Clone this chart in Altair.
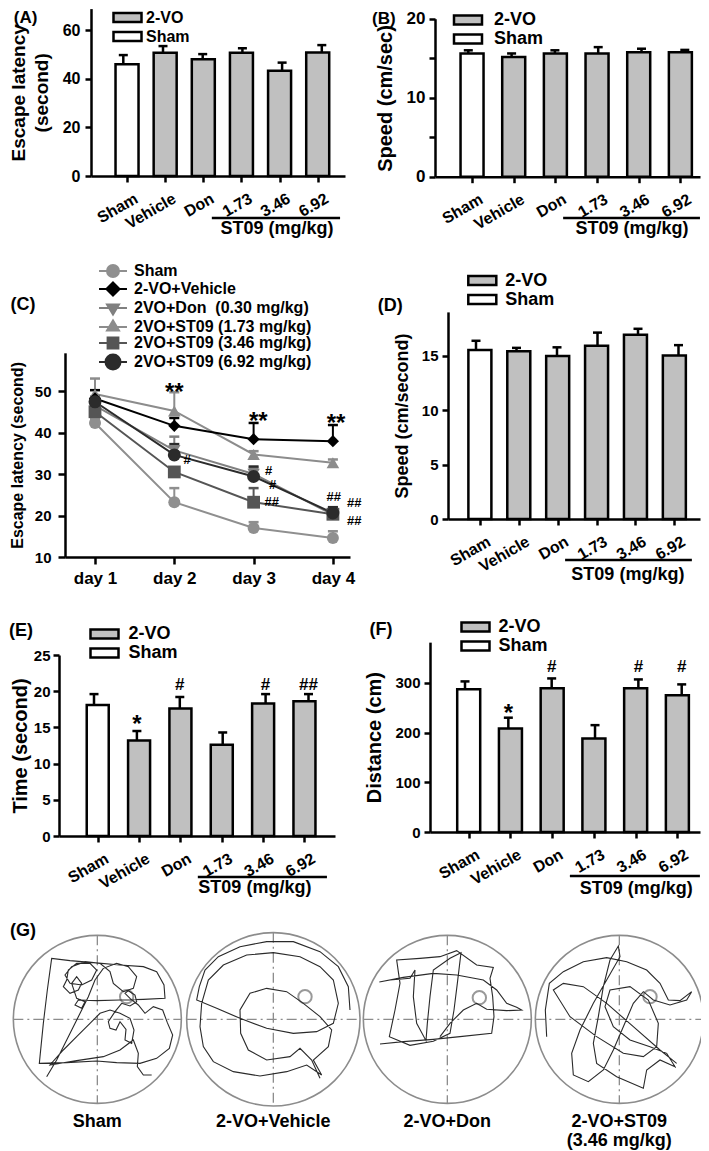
import altair as alt
import pandas as pd

W, H = 693, 1143
M = 8  # page margin of the html page
FONT = "Liberation Sans"
BAR_GRAY = "#c0c0c0"

# ---------------------------------------------------------------- data
GROUPS = ["Sham", "Vehicle", "Don", "1.73", "3.46", "6.92"]
BAR_KIND = ["Sham", "2-VO", "2-VO", "2-VO", "2-VO", "2-VO"]
KINDS = ["2-VO", "Sham"]

A_MEAN = [45.9, 50.7, 48.0, 50.7, 43.3, 50.8]
A_UP = [49.7, 53.4, 50.1, 52.5, 46.6, 53.8]
B_MEAN = [15.6, 15.15, 15.6, 15.6, 15.75, 15.75]
B_UP = [16.0, 15.6, 16.0, 16.4, 16.2, 16.05]
D_MEAN = [15.5, 15.4, 14.95, 15.9, 16.9, 15.0]
D_UP = [16.35, 15.7, 15.75, 17.1, 17.45, 15.95]
E_MEAN = [18.1, 13.2, 17.6, 12.6, 18.3, 18.6]
E_UP = [19.6, 14.5, 19.2, 14.3, 19.6, 19.6]
F_MEAN = [287, 208, 289, 188, 289, 275]
F_UP = [303, 230, 309, 215, 307, 297]

DAYS = [1, 2, 3, 4]
C_SERIES = ["Sham", "2-VO+Vehicle", "2VO+Don\u00a0 (0.30 mg/kg)", "2VO+ST09 (1.73 mg/kg)",
            "2VO+ST09 (3.46 mg/kg)", "2VO+ST09 (6.92 mg/kg)"]
C_MEAN = [[42.3, 23.2, 17.0, 14.6],
          [48.2, 41.6, 38.4, 37.9],
          [46.5, 35.7, 30.0, 20.2],
          [49.3, 45.2, 34.7, 32.7],
          [45.0, 30.5, 23.2, 20.3],
          [47.4, 34.6, 29.4, 20.6]]
C_UP = [[43.3, 26.6, 18.4, 16.2],
        [50.2, 43.5, 42.3, 41.8],
        [48.0, 39.0, 31.5, 22.0],
        [53.0, 49.7, 35.5, 33.5],
        [46.2, 31.6, 26.6, 21.6],
        [48.6, 37.2, 31.8, 22.0]]
C_DRAW_ORDER = [0, 3, 2, 4, 1, 5]
C_COLORS = ["#8f8f8f", "#000000", "#808080", "#8c8c8c", "#555555", "#2b2b2b"]
C_SHAPES = ["circle", "diamond", "triangle-down", "triangle-up", "square", "circle"]
C_SIZES = [144, 169, 144, 144, 121, 225]
C_LEG_PATHS = [
    "M-2.33,0H2.33M-1,0A1,1,0,1,0,1,0A1,1,0,1,0,-1,0Z",
    "M-2.33,0H2.33M0,-1.1L1.1,0L0,1.1L-1.1,0Z",
    "M-2.33,0H2.33M-1,-0.6L1,-0.6L0,1.1Z",
    "M-2.33,0H2.33M-1,0.6L1,0.6L0,-1.1Z",
    "M-2.33,0H2.33M-0.9,-0.9H0.9V0.9H-0.9Z",
    "M-2.33,0H2.33M-1.25,0A1.25,1.25,0,1,0,1.25,0A1.25,1.25,0,1,0,-1.25,0Z",
]

C_STAR_X = [2.0, 3.06, 4.04]
C_STAR_Y = [51.2, 44.2, 43.7]
C_HASH_X = [2.16, 3.19, 3.24, 3.23, 4.01, 4.27, 4.27]
C_HASH_Y = [33.6, 30.9, 27.7, 23.5, 24.7, 23.3, 18.9]
C_HASH_T = ["#", "#", "#", "##", "##", "##", "##"]

E_STAR_X, E_STAR_Y = [1], [16.3]
E_HASH_X, E_HASH_Y, E_HASH_T = [2, 4, 5], [21.0, 21.0, 21.0], ["#", "#", "##"]
F_STAR_X, F_STAR_Y = [1], [252]
F_HASH_X, F_HASH_Y, F_HASH_T = [2, 4, 5], [334, 334, 334], ["#", "#", "#"]

# water-maze tracks, traced on a 3x grid of the figure (x = 3*px, y = 3*(py-770))
POOL_NAMES = ["Sham", "2-VO+Vehicle", "2-VO+Don", "2-VO+ST09\n(3.46 mg/kg)"]
POOL_CX = [292, 820, 1342, 1858]
POOL_CY = [748, 748, 748, 748]
POOL_R = [252, 260, 252, 252]
PLAT_X = [380, 915, 1438, 1950]
PLAT_Y = [680, 680, 683, 680]
# tracks were traced on crops; each crop's origin on the 3x grid is given with it
SHAM_ORIGIN = (30, 480)
SHAM_PATH = [(110, 440), (140, 390), (175, 320), (205, 260), (235, 200), (255, 150), (280, 115), (320, 100),
             (355, 110), (380, 140), (370, 175), (340, 185), (310, 160), (300, 125), (270, 100), (225, 95),
             (185, 110), (165, 135), (180, 160), (215, 165), (245, 150), (260, 120), (240, 100), (200, 100),
             (175, 120), (170, 150), (160, 170), (180, 190), (205, 180), (215, 160), (200, 140), (185, 160),
             (200, 205), (225, 215), (215, 235), (195, 225), (205, 210), (260, 212), (330, 210), (400, 208),
             (465, 205), (462, 165), (440, 125), (400, 110), (330, 105), (250, 98), (180, 92), (125, 85),
             (112, 180), (100, 280), (90, 380), (88, 400), (170, 398), (260, 393), (320, 398), (390, 400),
             (440, 385), (478, 355), (488, 315), (472, 278), (458, 240), (430, 230), (405, 250), (385, 225),
             (360, 205), (345, 190), (355, 182), (375, 195), (380, 215), (360, 228), (335, 220), (315, 245),
             (295, 275), (300, 295), (318, 300), (330, 275), (348, 298), (345, 330), (365, 340), (372, 300),
             (360, 265), (330, 250), (300, 240), (270, 250), (240, 280), (200, 320), (160, 360), (120, 405),
             (200, 392), (280, 380), (330, 360), (370, 330), (385, 370), (382, 410), (400, 435), (425, 435)]
VEH_ORIGIN = (0, 0)
VEH_PATH = [(1050, 720), (1045, 650), (1015, 590), (960, 545), (880, 515), (800, 515), (720, 530), (655, 560),
            (615, 600), (598, 650), (590, 690), (650, 715), (720, 745), (800, 775), (880, 790), (950, 785),
            (1000, 760), (1015, 700), (1000, 630), (960, 590), (900, 560), (820, 548), (740, 555), (670, 585),
            (625, 630), (605, 700), (600, 770), (610, 830), (640, 875), (700, 905), (780, 918), (860, 905),
            (920, 885), (965, 915), (940, 870), (985, 830), (995, 780), (960, 740), (910, 700), (860, 665),
            (800, 655), (750, 670), (720, 720), (722, 790), (745, 840), (800, 870), (870, 860), (900, 835),
            (935, 870), (960, 925)]
CROP2_ORIGIN = (1050, 0)
DON_PATH = [(90, 822), (160, 815), (250, 808), (330, 800), (425, 790), (432, 740), (428, 680), (420, 625),
            (430, 592), (380, 585), (320, 542), (270, 560), (210, 565), (140, 570), (150, 640), (135, 720),
            (118, 800), (180, 826), (250, 814), (300, 790), (312, 720), (322, 640), (333, 548), (300, 565),
            (250, 600), (240, 680), (232, 760), (228, 812), (200, 760), (190, 680), (195, 600), (180, 625),
            (120, 630), (88, 636), (160, 622), (250, 610), (320, 615), (400, 630), (440, 660), (470, 700),
            (500, 712), (515, 720), (470, 722), (410, 718), (380, 700), (340, 720), (300, 760), (270, 800)]
ST09_PATH = [(590, 800), (586, 720), (598, 640), (640, 605), (700, 575), (770, 563), (830, 575), (890, 600),
             (930, 640), (955, 690), (990, 692), (1025, 665), (1010, 690), (960, 705), (910, 690), (880, 665),
             (850, 700), (820, 770), (790, 840), (760, 900), (715, 935), (670, 915), (665, 850), (690, 780),
             (730, 700), (770, 630), (810, 560), (805, 528), (780, 570), (760, 650), (745, 740), (730, 820),
             (740, 880), (800, 920), (880, 955), (890, 900), (930, 870), (975, 890), (950, 850), (900, 830),
             (840, 810), (790, 770), (765, 710), (780, 660), (840, 650), (895, 690), (925, 760), (920, 830),
             (880, 860), (820, 850), (740, 800), (660, 740), (610, 660), (640, 640), (700, 650), (770, 700),
             (850, 770), (930, 840), (980, 880)]

# ---------------------------------------------------------------- helpers
AX = dict(grid=False, domainColor="black", domainWidth=2.5, tickColor="black", tickWidth=2.5,
          labelFont=FONT, labelFontWeight="bold", labelColor="black",
          titleFont=FONT, titleFontWeight="bold", titleColor="black",
          labelOverlap=False, labelFlush=False, labelBound=False)
GROUP_EXPR = "[" + ",".join("'%s'" % g for g in GROUPS) + "][datum.value]"


def x_geom(c0, step, left, right, first=0):
    return alt.Scale(domain=[first + (left - c0) / step, first + (right - c0) / step],
                     range=[left - M, right - M], nice=False, zero=False)


def y_geom(base_px, ppu, vmin, vmax, vref=0):
    def px(v):
        return base_px - (v - vref) * ppu
    return alt.Scale(domain=[vmin, vmax], range=[px(vmin) - M, px(vmax) - M],
                     nice=False, zero=False), px(vmin)


def left_axis(x_px, values, title, label_size, title_size, label_pad, title_pad, tick=6, **kw):
    return alt.Axis(orient="left", offset=-(x_px - M), values=values, title=title,
                    labelFontSize=label_size, titleFontSize=title_size, labelPadding=label_pad,
                    titlePadding=title_pad, tickSize=tick, **AX, **kw)


def bottom_axis(y_px, values, label_expr, label_size, angle, align, baseline, label_pad,
                tick=6, label_offset=0):
    return alt.Axis(orient="bottom", offset=(y_px - M) - H, values=values, title=None,
                    labelExpr=label_expr, labelAngle=angle, labelAlign=align,
                    labelBaseline=baseline, labelFontSize=label_size, labelPadding=label_pad,
                    labelOffset=label_offset, tickSize=tick, **AX)


def group_axis(y_px):
    return bottom_axis(y_px, list(range(len(GROUPS))), GROUP_EXPR, 16, -30, "right", "top", 8,
                       label_offset=5)


BOX_PATH = "M-2,-0.65H2V0.65H-2Z"


def box_legend(x_px, y_px, label_size, label_offset, row_pad):
    return alt.Legend(title=None, orient="none", legendX=x_px - M, legendY=y_px - M,
                      symbolType=BOX_PATH, symbolSize=196, symbolStrokeColor="black",
                      symbolStrokeWidth=2.5, labelFont=FONT, labelFontSize=label_size,
                      labelFontWeight="bold", labelColor="black", labelOffset=label_offset,
                      rowPadding=row_pad, padding=0)


def text_layer(xs, ys, xv, yv, tv, size, dy=0, align="center"):
    df = pd.DataFrame({"x": xv, "y": yv, "t": tv})
    return alt.Chart(df).mark_text(font=FONT, fontWeight="bold", fontSize=size, dy=dy, align=align,
                                   baseline="middle", color="black").encode(
        x=alt.X("x:Q", scale=xs, axis=None), y=alt.Y("y:Q", scale=ys, axis=None), text="t:N")


def underline(xs, ys, x1, x2, y):
    df = pd.DataFrame({"x": [x1], "x2": [x2], "y": [y]})
    return alt.Chart(df).mark_rule(color="black", strokeWidth=2.5).encode(
        x=alt.X("x:Q", scale=xs, axis=None), x2="x2:Q", y=alt.Y("y:Q", scale=ys, axis=None))


def bar_panel(mean, up, xs, ys, xax, yax, legend, bar_w):
    df = pd.DataFrame({"i": list(range(len(GROUPS))), "m": mean, "u": up, "k": BAR_KIND})
    bars = alt.Chart(df).mark_bar(orient="vertical", width=bar_w, stroke="black", strokeWidth=2.5).encode(
        x=alt.X("i:Q", scale=xs, axis=xax),
        y=alt.Y("m:Q", scale=ys, axis=yax, stack=None),
        fill=alt.Fill("k:N", scale=alt.Scale(domain=KINDS, range=[BAR_GRAY, "white"]), legend=legend))
    err = alt.Chart(df).mark_rule(color="black", strokeWidth=2.5).encode(
        x=alt.X("i:Q", scale=xs, axis=None), y=alt.Y("m:Q", scale=ys, axis=None), y2="u:Q")
    cap = alt.Chart(df).mark_tick(orient="horizontal", color="black", size=9, thickness=2.5,
                                  opacity=1).encode(
        x=alt.X("i:Q", scale=xs, axis=None), y=alt.Y("u:Q", scale=ys, axis=None))
    return [bars, err, cap]


layers = []

# ---------------------------------------------------------------- (A)
xa = x_geom(123.3, 39.7, 91, 345)
ya, ya0 = y_geom(176, 2.433, 0, 68.8)
layers += bar_panel(A_MEAN, A_UP, xa, ya, group_axis(ya0),
                    left_axis(91, [0, 20, 40, 60], ["Escape latency", "(second)"], 16, 19, 5, 11,
                              titleLineHeight=23),
                    box_legend(119, 9, 16, 10, -3), 23)
layers += [underline(xa, ya, 2.23, 5.46, -17.3),
           text_layer(xa, ya, [3.87], [-21.8], ["ST09 (mg/kg)"], 18),
           text_layer(xa, ya, [-2.46], [64.9], ["(A)"], 17)]

# ---------------------------------------------------------------- (B)
xb = x_geom(468.3, 43.3, 435, 700)
yb, yb0 = y_geom(176.7, 7.9, 0, 20)
layers += bar_panel(B_MEAN, B_UP, xb, yb, group_axis(yb0),
                    left_axis(435, [0, 5, 10, 15, 20], "Speed (cm/sec)", 17, 20, 4, 11,
                              labelExpr="datum.value % 10 == 0 ? datum.label : ''", titleY=90),
                    box_legend(459, 11, 18, 17, -5), 23)
layers += [underline(xb, yb, 2.19, 5.35, -5.23),
           text_layer(xb, yb, [3.78], [-6.62], ["ST09 (mg/kg)"], 18),
           text_layer(xb, yb, [-1.95], [19.96], ["(B)"], 17)]

# ---------------------------------------------------------------- (C)
xc = x_geom(95, 79.3, 65, 350, first=1)
yc, yc0 = y_geom(391, 4.15, 10, 59.2, vref=50)
c_rows = []
for s in C_DRAW_ORDER:
    for d, m, u in zip(DAYS, C_MEAN[s], C_UP[s]):
        c_rows.append({"s": C_SERIES[s], "day": d, "m": m, "u": u})
cdf = pd.DataFrame(c_rows)
c_col = alt.Scale(domain=C_SERIES, range=C_COLORS)
c_line = alt.Chart(cdf).mark_line(strokeWidth=2).encode(
    x=alt.X("day:Q", scale=xc,
            axis=bottom_axis(yc0, DAYS, "'day ' + datum.value", 17, 0, "center", "top", 6, tick=7)),
    y=alt.Y("m:Q", scale=yc,
            axis=left_axis(65, [10, 20, 30, 40, 50], "Escape latency (second)", 15, 16, 7, 9, tick=7)),
    color=alt.Color("s:N", scale=c_col, legend=None), order=alt.Order("day:Q"))
c_err = alt.Chart(cdf).mark_rule(strokeWidth=2).encode(
    x=alt.X("day:Q", scale=xc, axis=None), y=alt.Y("m:Q", scale=yc, axis=None), y2="u:Q",
    color=alt.Color("s:N", scale=c_col, legend=None))
c_cap = alt.Chart(cdf).mark_tick(orient="horizontal", size=10, thickness=2.5, opacity=1).encode(
    x=alt.X("day:Q", scale=xc, axis=None), y=alt.Y("u:Q", scale=yc, axis=None),
    color=alt.Color("s:N", scale=c_col, legend=None))
c_pts = alt.Chart(cdf).mark_point(filled=True, opacity=1).encode(
    x=alt.X("day:Q", scale=xc, axis=None), y=alt.Y("m:Q", scale=yc, axis=None),
    color=alt.Color("s:N", scale=c_col, legend=None),
    shape=alt.Shape("s:N", scale=alt.Scale(domain=C_SERIES, range=C_SHAPES), legend=None),
    size=alt.Size("s:N", scale=alt.Scale(domain=C_SERIES, range=C_SIZES), legend=None))
c_leg = alt.Legend(title=None, orient="none", legendX=105 - M, legendY=263 - M, symbolSize=144,
                   symbolStrokeWidth=2, labelFont=FONT, labelFontSize=16, labelFontWeight="bold",
                   labelColor="black", labelOffset=13, rowPadding=-3, padding=0, labelLimit=400)
c_legend_layer = alt.Chart(pd.DataFrame({"s": C_SERIES})).mark_point(
    filled=True, clip=True, opacity=1, strokeWidth=2).encode(
    x=alt.value(-500), y=alt.value(-500),
    fill=alt.Fill("s:N", scale=alt.Scale(domain=C_SERIES, range=C_COLORS), legend=c_leg),
    stroke=alt.Stroke("s:N", scale=alt.Scale(domain=C_SERIES, range=C_COLORS), legend=c_leg),
    shape=alt.Shape("s:N", scale=alt.Scale(domain=C_SERIES, range=C_LEG_PATHS), legend=c_leg))
layers += [c_line, c_err, c_cap, c_pts, c_legend_layer,
           text_layer(xc, yc, C_STAR_X, C_STAR_Y, ["**"] * 3, 24, dy=7),
           text_layer(xc, yc, C_HASH_X, C_HASH_Y, C_HASH_T, 13, dy=1),
           text_layer(xc, yc, [0.092], [70.7], ["(C)"], 18)]

# ---------------------------------------------------------------- (D)
xd = x_geom(476, 40.5, 448, 700)
yd, yd0 = y_geom(519, 10.9, 0, 19)
layers += bar_panel(D_MEAN, D_UP, xd, yd, group_axis(yd0),
                    left_axis(448, [0, 5, 10, 15], "Speed (cm/second)", 15, 18, 4, 10),
                    box_legend(473.3, 271.5, 18, 14, -3), 23)
layers += [underline(xd, yd, 2.20, 5.33, -3.76),
           text_layer(xd, yd, [3.75], [-5.14], ["ST09 (mg/kg)"], 18),
           text_layer(xd, yd, [-2.12], [19.5], ["(D)"], 18)]

# ---------------------------------------------------------------- (E)
xe = x_geom(94, 42.9, 59, 335)
ye, ye0 = y_geom(836, 7.24, 0, 25)
layers += bar_panel(E_MEAN, E_UP, xe, ye, group_axis(ye0),
                    left_axis(59, [0, 5, 10, 15, 20, 25], "Time (second)", 15, 20, 3, 3),
                    box_legend(95.5, 625, 18, 15, -3), 22)
layers += [underline(xe, ye, 2.42, 5.43, -5.66),
           text_layer(xe, ye, [3.75], [-7.18], ["ST09 (mg/kg)"], 18),
           text_layer(xe, ye, [-1.70], [28.3], ["(E)"], 18),
           text_layer(xe, ye, E_STAR_X, E_STAR_Y, ["*"], 24, dy=7),
           text_layer(xe, ye, E_HASH_X, E_HASH_Y, E_HASH_T, 17, dy=1)]

# ---------------------------------------------------------------- (F)
xf = x_geom(465, 43.34, 430, 700)
yf, yf0 = y_geom(832, 0.497, 0, 382)
layers += bar_panel(F_MEAN, F_UP, xf, yf, group_axis(yf0),
                    left_axis(430, [0, 100, 200, 300], "Distance (cm)", 15, 20, 4, 10),
                    box_legend(466.5, 618, 18, 14, -2), 23)
layers += [underline(xf, yf, 2.42, 5.42, -88.5),
           text_layer(xf, yf, [3.95], [-114.7], ["ST09 (mg/kg)"], 18),
           text_layer(xf, yf, [-1.94], [406], ["(F)"], 18),
           text_layer(xf, yf, F_STAR_X, F_STAR_Y, ["*"], 24, dy=7),
           text_layer(xf, yf, F_HASH_X, F_HASH_Y, F_HASH_T, 17, dy=1)]

# ---------------------------------------------------------------- (G)
gx = alt.Scale(domain=[3 * M, 3 * (W + M)], range=[0, W], nice=False, zero=False)
gy = alt.Scale(domain=[0, 3 * (H + M - 770)], range=[770 - M, H], nice=False, zero=False)
pools = pd.DataFrame({"name": POOL_NAMES, "cx": POOL_CX, "cy": POOL_CY, "r": POOL_R,
                      "px": PLAT_X, "py": PLAT_Y})
pools["x1"] = pools.cx - pools.r
pools["x2"] = pools.cx + pools.r
pools["y1"] = pools.cy - pools.r
pools["y2"] = pools.cy + pools.r
pools["ly"] = 1030

track_rows = []
for k, (path, (ox, oy)) in enumerate([(SHAM_PATH, SHAM_ORIGIN), (VEH_PATH, VEH_ORIGIN),
                                      (DON_PATH, CROP2_ORIGIN), (ST09_PATH, CROP2_ORIGIN)]):
    for i, (tx, ty) in enumerate(path):
        track_rows.append({"pool": k, "i": i, "x": tx + ox, "y": ty + oy})
tracks = pd.DataFrame(track_rows)


def GX(f):
    return alt.X(f, scale=gx, axis=None)


def GY(f):
    return alt.Y(f, scale=gy, axis=None)


g_circle = alt.Chart(pools).mark_point(shape="circle", filled=False, stroke="#8c8c8c",
                                       strokeWidth=1.6, opacity=1).encode(
    x=GX("cx:Q"), y=GY("cy:Q"),
    size=alt.Size("r:Q", scale=alt.Scale(type="pow", exponent=2, domain=[0, 252],
                                         range=[0, (2 * 252 / 3) ** 2]), legend=None))
dash = [10, 4, 2, 4]
g_h = alt.Chart(pools).mark_rule(color="#8c8c8c", strokeWidth=1.3, strokeDash=dash).encode(
    x=GX("x1:Q"), x2="x2:Q", y=GY("cy:Q"))
g_v = alt.Chart(pools).mark_rule(color="#8c8c8c", strokeWidth=1.3, strokeDash=dash).encode(
    x=GX("cx:Q"), y=GY("y1:Q"), y2="y2:Q")
g_plat = alt.Chart(pools).mark_point(shape="circle", filled=False, stroke="#999999", strokeWidth=2,
                                     size=180, opacity=1).encode(x=GX("px:Q"), y=GY("py:Q"))
g_track = alt.Chart(tracks).mark_line(color="#2a2a2a", strokeWidth=1.1).encode(
    x=GX("x:Q"), y=GY("y:Q"), detail="pool:N", order=alt.Order("i:Q"))
g_label = alt.Chart(pools).mark_text(font=FONT, fontWeight="bold", fontSize=18, baseline="top",
                                     align="center", lineBreak="\n", lineHeight=19,
                                     color="black").encode(
    x=GX("cx:Q"), y=GY("ly:Q"), text="name:N")
g_tag = alt.Chart(pd.DataFrame({"x": [30], "y": [483], "t": ["(G)"]})).mark_text(
    font=FONT, fontWeight="bold", fontSize=18, align="left", baseline="middle", color="black").encode(
    x=GX("x:Q"), y=GY("y:Q"), text="t:N")
layers += [g_circle, g_h, g_v, g_plat, g_track, g_label, g_tag]

chart = alt.layer(*layers).resolve_scale(
    x="independent", y="independent", color="independent", fill="independent",
    stroke="independent", shape="independent", size="independent"
).resolve_axis(x="independent", y="independent").resolve_legend(
    color="independent", fill="independent", stroke="independent", shape="independent",
    size="independent"
).properties(width=W, height=H, padding=0,
             autosize=alt.AutoSizeParams(type="none")).configure_view(stroke=None)

chart.save("out.html", embed_options={"renderer": "svg", "actions": False})
